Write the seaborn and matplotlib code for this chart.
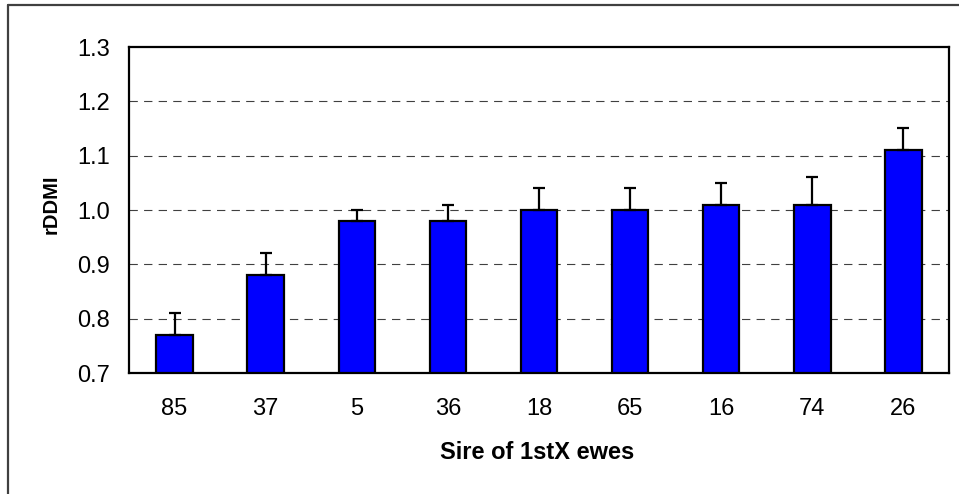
import matplotlib
matplotlib.use("Agg")
import matplotlib.pyplot as plt
import seaborn as sns
import pandas as pd
from matplotlib.lines import Line2D

# Sire identifiers, mean rDDMI and upper error per sire
sires = ["85", "37", "5", "36", "18", "65", "16", "74", "26"]
rddmi = [0.77, 0.88, 0.98, 0.98, 1.00, 1.00, 1.01, 1.01, 1.11]
upper_err = [0.04, 0.04, 0.02, 0.03, 0.04, 0.04, 0.04, 0.05, 0.04]
y_ticks = [0.7, 0.8, 0.9, 1.0, 1.1, 1.2, 1.3]
y_tick_labels = ["0.7", "0.8", "0.9", "1.0", "1.1", "1.2", "1.3"]

df = pd.DataFrame({"sire": sires, "rddmi": rddmi})

sns.set_theme(style="white")
plt.rcParams["font.family"] = ["Liberation Sans", "DejaVu Sans"]
plt.rcParams["text.color"] = "black"
plt.rcParams["lines.scale_dashes"] = False

W, H = 959, 494
fig = plt.figure(figsize=(W / 100, H / 100), dpi=100)
ax = fig.add_axes([129 / W, 1 - 373 / H, (949 - 129) / W, (373 - 47) / H])

sns.barplot(data=df, x="sire", y="rddmi", order=sires, color="#0000FF",
            width=0.4, edgecolor="black", linewidth=1.6, errorbar=None,
            saturation=1, ax=ax)

# upward-only error bars at each bar's centre
xs = [p.get_x() + p.get_width() / 2 for p in ax.patches]
ax.errorbar(xs, rddmi, yerr=[[0] * len(rddmi), upper_err], fmt="none",
            ecolor="black", elinewidth=1.6, capsize=4.3, capthick=1.6, zorder=1)

ax.set_ylim(0.7, 1.3)
ax.set_xlim(-0.5, len(sires) - 0.5)
ax.set_yticks(y_ticks)
ax.set_yticklabels(y_tick_labels)
ax.set_axisbelow(True)
for y in y_ticks[1:-1]:
    ax.axhline(y, color="#404040", lw=0.8, dashes=(6, 4.5), zorder=0)

ax.tick_params(axis="both", length=0, labelsize=17, colors="black",
               labelcolor="black")
ax.tick_params(axis="y", pad=14)
ax.tick_params(axis="x", pad=18)
ax.set_xlabel("")
ax.set_ylabel("")
for s in ax.spines.values():
    s.set_visible(True)
    s.set_color("black")
    s.set_linewidth(1.6)

fig.text(537 / W, 1 - 452 / H, "Sire of 1stX ewes", ha="center", va="center",
         fontsize=17, fontweight="bold", color="black")
fig.text(51 / W, 1 - 204 / H, "rDDMI", ha="center", va="center",
         rotation=90, fontsize=14.5, fontweight="bold", color="black")

# outer chart frame (top and left edges)
fig.add_artist(Line2D([7.5 / W, 1], [1 - 5 / H, 1 - 5 / H], color="#404040",
                      lw=1.6, transform=fig.transFigure))
fig.add_artist(Line2D([7.5 / W, 7.5 / W], [0, 1 - 5 / H], color="#404040",
                      lw=1.6, transform=fig.transFigure))

fig.savefig("out.png", dpi=100, facecolor="white")
